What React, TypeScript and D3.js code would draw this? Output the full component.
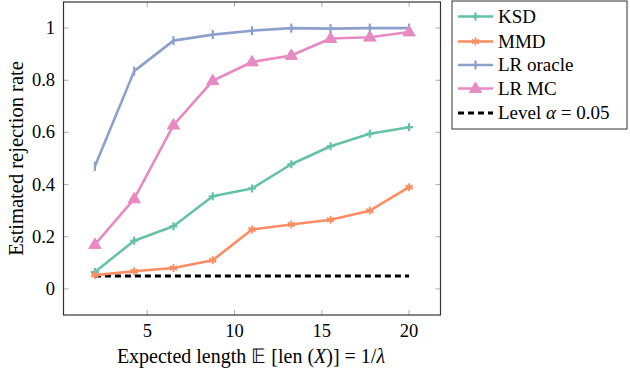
import React from "react";
import * as d3 from "d3";

const xs = [2, 4.25, 6.5, 8.75, 11, 13.25, 15.5, 17.75, 20];
const ksd = [0.065, 0.185, 0.24, 0.355, 0.385, 0.478, 0.547, 0.595, 0.62];
const mmd = [0.053, 0.068, 0.08, 0.11, 0.228, 0.247, 0.265, 0.3, 0.39];
const lrOracle = [0.47, 0.835, 0.952, 0.975, 0.99, 1.0, 0.998, 1.0, 1.0];
const lrMC = [0.17, 0.345, 0.628, 0.798, 0.87, 0.895, 0.96, 0.965, 0.985];
const level = 0.05;
const xTicks = [5, 10, 15, 20];
const yTicks = [0, 0.2, 0.4, 0.6, 0.8, 1];

const seriesNames = ["KSD", "MMD", "LR oracle", "LR MC"];
const seriesColors = ["#66c2a5", "#fc8d62", "#8da0cb", "#e78ac3"];
const seriesMarkers = ["plus", "star", "bar", "triangle"];

const W = 630, H = 368;
const L = 63.5, R = 440.5, T = 2, B = 315;
const FONT = "Liberation Serif, serif";

function Marker({ type, x, y, color }: { type: string; x: number; y: number; color: string }) {
  if (type === "plus") {
    return (
      <g stroke={color} strokeWidth={2.2}>
        <line x1={x - 4} y1={y} x2={x + 4} y2={y} />
        <line x1={x} y1={y - 4} x2={x} y2={y + 4} />
      </g>
    );
  }
  if (type === "star") {
    const r = 4;
    return (
      <g stroke={color} strokeWidth={1.8}>
        {[0, 60, 120].map((a) => {
          const rad = ((a + 90) * Math.PI) / 180;
          return <line key={a} x1={x - r * Math.cos(rad)} y1={y - r * Math.sin(rad)} x2={x + r * Math.cos(rad)} y2={y + r * Math.sin(rad)} />;
        })}
        <line x1={x - 3.5} y1={y} x2={x + 3.5} y2={y} />
      </g>
    );
  }
  if (type === "bar") {
    return <line x1={x} y1={y - 4.5} x2={x} y2={y + 4.5} stroke={color} strokeWidth={2.2} />;
  }
  const s = 6.5;
  return (
    <path
      d={`M${x},${y - s} L${x + s * 0.95},${y + s * 0.6} L${x - s * 0.95},${y + s * 0.6} Z`}
      fill={color}
      stroke={color}
      strokeWidth={1}
    />
  );
}

export default function App() {
  const x = d3.scaleLinear().domain([0.2, 21.8]).range([L, R]);
  const y = d3.scaleLinear().domain([-0.1, 1.1]).range([B, T]);
  const line = d3
    .line<[number, number]>()
    .x((d) => x(d[0]))
    .y((d) => y(d[1]));
  const data = [ksd, mmd, lrOracle, lrMC];

  const legX = 452, legY = 1, legW = 175, legH = 128;
  const rowY = [16.5, 41.5, 65, 88.5, 113];

  return (
    <svg width={W} height={H} style={{ position: "absolute", left: 0, top: 0, background: "#fff", fontFamily: FONT }}>
      {/* ticks */}
      {xTicks.map((t) => (
        <g key={"xt" + t} stroke="#999" strokeWidth={0.8}>
          <line x1={x(t)} y1={B} x2={x(t)} y2={B - 5} />
          <line x1={x(t)} y1={T} x2={x(t)} y2={T + 5} />
        </g>
      ))}
      {yTicks.map((t) => (
        <g key={"yt" + t} stroke="#999" strokeWidth={0.8}>
          <line x1={L} y1={y(t)} x2={L + 5} y2={y(t)} />
          <line x1={R} y1={y(t)} x2={R - 5} y2={y(t)} />
        </g>
      ))}
      {/* level line */}
      <line
        x1={x(xs[0])}
        x2={x(xs[xs.length - 1])}
        y1={y(level)}
        y2={y(level)}
        stroke="#000"
        strokeWidth={3}
        strokeDasharray="6,4"
      />
      {data.map((vals, i) => {
        const pts: [number, number][] = xs.map((v, j) => [v, vals[j]]);
        return (
          <g key={i}>
            <path d={line(pts) || ""} fill="none" stroke={seriesColors[i]} strokeWidth={2.6} strokeLinejoin="round" />
            {pts.map((p, j) => (
              <Marker key={j} type={seriesMarkers[i]} x={x(p[0])} y={y(p[1])} color={seriesColors[i]} />
            ))}
          </g>
        );
      })}
      {/* frame */}
      <rect x={L} y={T} width={R - L} height={B - T} fill="none" stroke="#333" strokeWidth={1.2} />
      {/* tick labels */}
      {xTicks.map((t) => (
        <text key={"xl" + t} x={x(t)} y={337} textAnchor="middle" fontSize={18.5}>
          {t}
        </text>
      ))}
      {yTicks.map((t) => (
        <text key={"yl" + t} x={55} y={y(t) + 6} textAnchor="end" fontSize={18.5}>
          {t === 0 || t === 1 ? String(t) : t.toFixed(1)}
        </text>
      ))}
      {/* axis titles */}
      <text x={251} y={363} textAnchor="middle" fontSize={20}>
        Expected length 𝔼 [len (<tspan fontStyle="italic">X</tspan>)] = 1/<tspan fontStyle="italic">λ</tspan>
      </text>
      <text transform={`translate(22.5,${158.5}) rotate(-90)`} textAnchor="middle" fontSize={20.5}>
        Estimated rejection rate
      </text>
      {/* legend */}
      <rect x={legX} y={legY} width={legW} height={legH} fill="#fff" stroke="#333" strokeWidth={1} />
      {seriesNames.map((n, i) => (
        <g key={n}>
          <line x1={458} x2={493} y1={rowY[i]} y2={rowY[i]} stroke={seriesColors[i]} strokeWidth={2.6} />
          <Marker type={seriesMarkers[i]} x={475.5} y={rowY[i]} color={seriesColors[i]} />
          <text x={498} y={rowY[i] + 6} fontSize={19}>
            {n}
          </text>
        </g>
      ))}
      <line x1={458} x2={493} y1={rowY[4]} y2={rowY[4]} stroke="#000" strokeWidth={3} strokeDasharray="6,4" />
      <text x={498} y={rowY[4] + 6} fontSize={19}>
        Level <tspan fontStyle="italic">α</tspan> = 0.05
      </text>
    </svg>
  );
}
